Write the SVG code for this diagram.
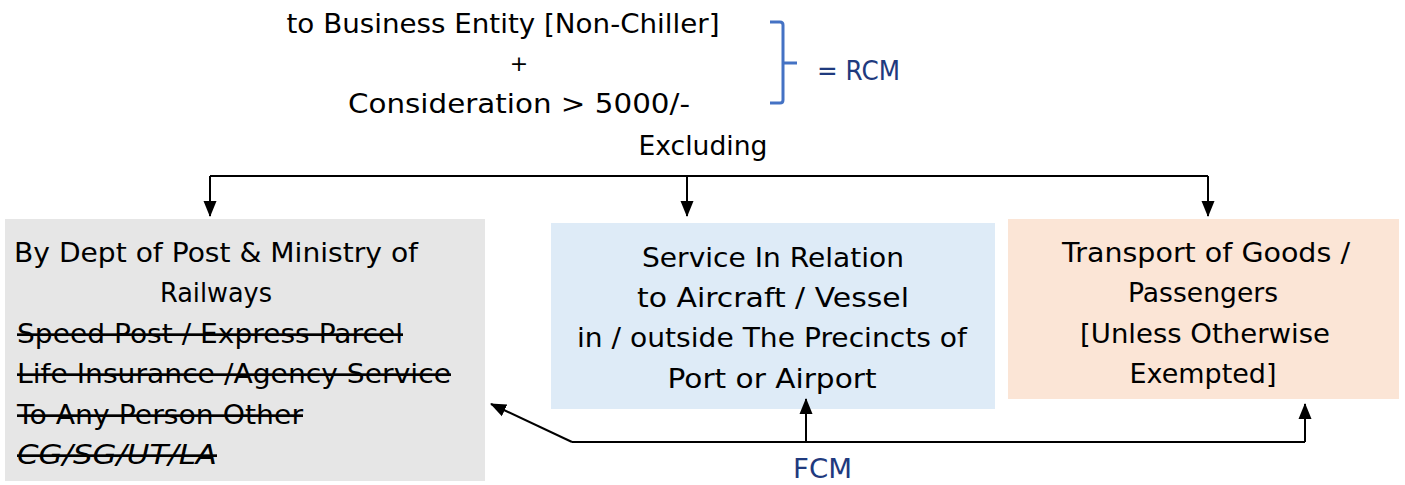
<svg xmlns="http://www.w3.org/2000/svg" width="1405" height="485" viewBox="0 0 1405 485">
<style>
.t{font-family:"DejaVu Sans","Liberation Sans",sans-serif;font-size:27px;fill:#000}
.c{text-anchor:middle}
.s{text-decoration:line-through}
.n{fill:#1f3a7e}
.ln{stroke:#000;stroke-width:2;fill:none}
</style>
<defs>
<marker id="ah" markerUnits="userSpaceOnUse" markerWidth="16" markerHeight="16" viewBox="0 0 16 16" refX="15" refY="8" orient="auto">
<path d="M0,1.5 L16,8 L0,14.5 Z" fill="#000"/>
</marker>
</defs>
<rect width="1405" height="485" fill="#fff"/>
<g id="header">
<text class="t c" x="503" y="33" textLength="433" lengthAdjust="spacingAndGlyphs">to Business Entity [Non-Chiller]</text>
<text class="t c" x="519" y="71" style="font-size:22px">+</text>
<text class="t c" x="519" y="113" textLength="342" lengthAdjust="spacingAndGlyphs">Consideration &gt; 5000/-</text>
<text class="t c" x="703" y="155" textLength="129" lengthAdjust="spacingAndGlyphs">Excluding</text>
</g>
<g id="rcm">
<path d="M770,22 H780 Q783,22 783,25 V100 Q783,103 780,103 H770 M783,63 H797" stroke="#4472c4" stroke-width="3" fill="none"/>
<text class="t n" x="817" y="80" textLength="83" lengthAdjust="spacingAndGlyphs">= RCM</text>
</g>
<g id="node-post">
<rect x="5" y="219" width="480" height="262" fill="#e6e6e6"/>
<text class="t" x="14" y="262" textLength="404" lengthAdjust="spacingAndGlyphs">By Dept of Post &amp; Ministry of</text>
<text class="t c" x="216" y="302" textLength="112" lengthAdjust="spacingAndGlyphs">Railways</text>
<text class="t s" x="17" y="343" textLength="386" lengthAdjust="spacingAndGlyphs">Speed Post / Express Parcel</text>
<text class="t s" x="17" y="383" textLength="434" lengthAdjust="spacingAndGlyphs">Life Insurance /Agency Service</text>
<text class="t s" x="17" y="424" textLength="286" lengthAdjust="spacingAndGlyphs">To Any Person Other</text>
<text class="t s" x="17" y="464" textLength="200" lengthAdjust="spacingAndGlyphs" font-style="italic">CG/SG/UT/LA</text>
</g>
<g id="node-aircraft">
<rect x="551" y="223" width="444" height="186" fill="#deebf7"/>
<text class="t c" x="773" y="267" textLength="262" lengthAdjust="spacingAndGlyphs">Service In Relation</text>
<text class="t c" x="773" y="307" textLength="272" lengthAdjust="spacingAndGlyphs">to Aircraft / Vessel</text>
<text class="t c" x="772" y="347" textLength="390" lengthAdjust="spacingAndGlyphs">in / outside The Precincts of</text>
<text class="t c" x="772" y="388" textLength="209" lengthAdjust="spacingAndGlyphs">Port or Airport</text>
</g>
<g id="node-transport">
<rect x="1008" y="219" width="391" height="180" fill="#fbe5d6"/>
<text class="t c" x="1206" y="262" textLength="288" lengthAdjust="spacingAndGlyphs">Transport of Goods /</text>
<text class="t c" x="1203" y="302" textLength="150" lengthAdjust="spacingAndGlyphs">Passengers</text>
<text class="t c" x="1205" y="343" textLength="250" lengthAdjust="spacingAndGlyphs">[Unless Otherwise</text>
<text class="t c" x="1203" y="383" textLength="147" lengthAdjust="spacingAndGlyphs">Exempted]</text>
</g>
<g id="connectors">
<path class="ln" d="M210,176 H1208"/>
<path class="ln" d="M210,176 V216" marker-end="url(#ah)"/>
<path class="ln" d="M687,176 V216" marker-end="url(#ah)"/>
<path class="ln" d="M1208,176 V216" marker-end="url(#ah)"/>
<path class="ln" d="M572,442 H1305"/>
<path class="ln" d="M572,442 L491,404" marker-end="url(#ah)"/>
<path class="ln" d="M806,442 V399" marker-end="url(#ah)"/>
<path class="ln" d="M1305,442 V404" marker-end="url(#ah)"/>
</g>
<g id="fcm">
<text class="t n" x="793" y="478" textLength="59" lengthAdjust="spacingAndGlyphs">FCM</text>
</g>
</svg>
